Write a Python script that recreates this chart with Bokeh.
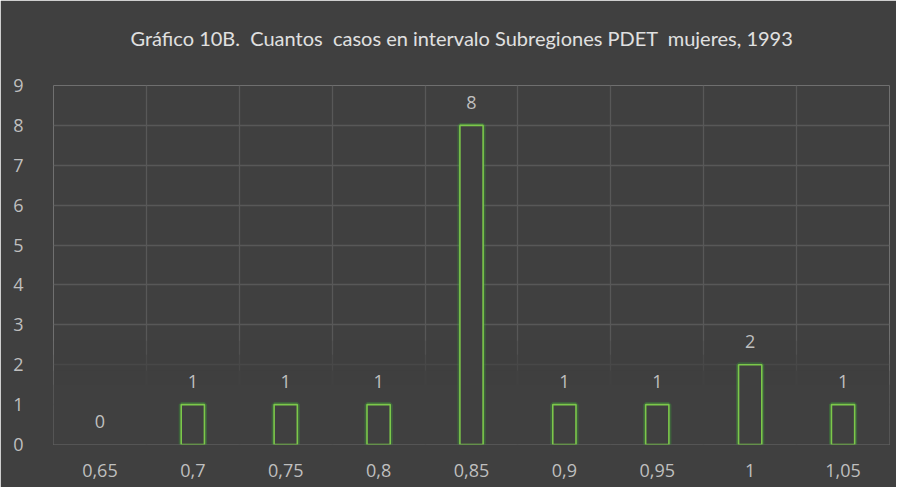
from bokeh.plotting import figure
from bokeh.models import ColumnDataSource, FixedTicker, LabelSet, CDSView, BooleanFilter, Title
from bokeh.core.properties import value
from bokeh.embed import file_html
from bokeh.resources import INLINE

# ---- data ----
categories = ["0,65", "0,7", "0,75", "0,8", "0,85", "0,9", "0,95", "1", "1,05"]
counts = [0, 1, 1, 1, 8, 1, 1, 2, 1]
y_ticks = [0, 1, 2, 3, 4, 5, 6, 7, 8, 9]
title_text = "Gráfico 10B.\u00a0 Cuantos\u00a0 casos en intervalo Subregiones PDET\u00a0 mujeres, 1993"

BG = "#404040"
GRID = "#585858"
TXT = "#bfbfbf"
GREEN = "#7cc84a"

pos = list(range(len(categories)))
src = ColumnDataSource(dict(x=pos, top=counts, label=[str(c) for c in counts]))
view = CDSView(filter=BooleanFilter([c > 0 for c in counts]))

p = figure(width=896, height=487, output_backend="svg", toolbar_location=None,
           x_range=(-0.5, len(categories) - 0.5), y_range=(0, max(y_ticks)),
           min_border_left=53, min_border_right=7, min_border_top=85, min_border_bottom=43)
p.background_fill_color = BG
p.border_fill_color = BG
p.outline_line_color = None

# spacer panel between frame and title, then the title itself
p.add_layout(Title(text="\u00a0", text_font_size="10px", standoff=18, text_color=BG), "above")
p.add_layout(Title(text=title_text, align="left", offset=77, standoff=10,
                   text_color="#e0e0e0", text_font="Lato", text_font_style="normal",
                   text_font_size="20px"), "above")

# grids
p.xgrid.ticker = FixedTicker(ticks=[i - 0.5 for i in range(len(categories) + 1)])
p.ygrid.ticker = FixedTicker(ticks=y_ticks)
p.xgrid.grid_line_color = GRID
p.ygrid.grid_line_color = GRID
p.xgrid.grid_line_width = 1.3
p.ygrid.grid_line_width = 1.3

# fade of gridlines near the bottom
for top_v, a in [(2.6, 0.3), (2.25, 0.5), (1.85, 0.8), (1.5, 1.0)]:
    p.quad(left=-0.5, right=len(categories) - 0.5, bottom=0, top=top_v,
           fill_color=BG, fill_alpha=a, line_color=None)

# glow + bars
p.vbar(x="x", top="top", width=0.25, bottom=0, source=src, view=view,
       fill_color=None, line_color="#3da33a", line_width=5, line_alpha=0.35)
p.vbar(x="x", top="top", width=0.25, bottom=0, source=src, view=view,
       fill_color=BG, line_color=GREEN, line_width=1.6)

labels = LabelSet(x="x", y="top", text="label", source=src, y_offset=23,
                  text_align="center", text_baseline="middle",
                  text_color=TXT, text_font_size=value("18px"), text_font=value("Open Sans"))
p.add_layout(labels)

for ax in (p.xaxis, p.yaxis):
    ax.axis_line_color = None
    ax.major_tick_line_color = None
    ax.minor_tick_line_color = None
    ax.major_label_text_color = TXT
    ax.major_label_text_font = "Open Sans"
    ax.major_label_text_font_size = "18px"

p.xaxis.ticker = FixedTicker(ticks=pos)
p.xaxis.major_label_overrides = {i: c for i, c in zip(pos, categories)}
p.xaxis.major_label_standoff = 13
p.yaxis.ticker = FixedTicker(ticks=y_ticks)
p.yaxis.major_label_standoff = 24

open("out.html", "w").write(file_html(p, INLINE))
